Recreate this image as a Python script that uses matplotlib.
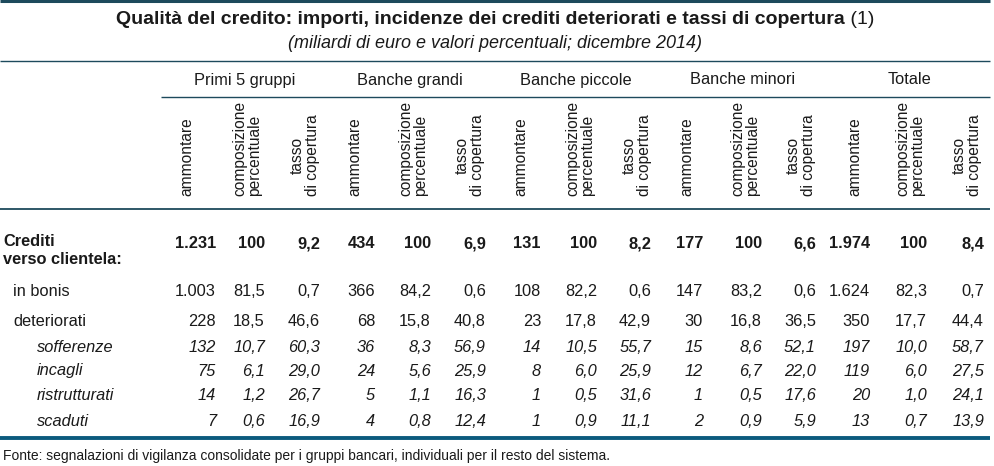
import matplotlib
matplotlib.use("Agg")
import matplotlib.pyplot as plt

plt.rcParams['font.family'] = ['Liberation Sans', 'DejaVu Sans']

# dati (miliardi di euro e valori percentuali; dicembre 2014)
gruppi = ["Primi 5 gruppi", "Banche grandi", "Banche piccole", "Banche minori", "Totale"]
voci = ["Crediti\nverso clientela:", "in bonis", "deteriorati",
        "sofferenze", "incagli", "ristrutturati", "scaduti"]
colonne = ["ammontare", "composizione\npercentuale", "tasso\ndi copertura"]

ammontare = [
    [1231, 1003, 228, 132, 75, 14, 7],
    [434, 366, 68, 36, 24, 5, 4],
    [131, 108, 23, 14, 8, 1, 1],
    [177, 147, 30, 15, 12, 1, 2],
    [1974, 1624, 350, 197, 119, 20, 13],
]
composizione = [
    [100, 81.5, 18.5, 10.7, 6.1, 1.2, 0.6],
    [100, 84.2, 15.8, 8.3, 5.6, 1.1, 0.8],
    [100, 82.2, 17.8, 10.5, 6.0, 0.5, 0.9],
    [100, 83.2, 16.8, 8.6, 6.7, 0.5, 0.9],
    [100, 82.3, 17.7, 10.0, 6.0, 1.0, 0.7],
]
tasso = [
    [9.2, 0.7, 46.6, 60.3, 29.0, 26.7, 16.9],
    [6.9, 0.6, 40.8, 56.9, 25.9, 16.3, 12.4],
    [8.2, 0.6, 42.9, 55.7, 25.9, 31.6, 11.1],
    [6.6, 0.6, 36.5, 52.1, 22.0, 17.6, 5.9],
    [8.4, 0.7, 44.4, 58.7, 27.5, 24.1, 13.9],
]

titolo = "Qualità del credito: importi, incidenze dei crediti deteriorati e tassi di copertura"
sottotitolo = "(miliardi di euro e valori percentuali; dicembre 2014)"
fonte = ("Fonte: segnalazioni di vigilanza consolidate per i gruppi bancari, "
         "individuali per il resto del sistema.")

# layout (pixel)
W, H = 995, 466
col_right = [[216, 265, 320], [375, 431, 486], [541, 597, 651],
             [703, 762, 816], [870, 927, 984]]
lab_x = [[187, 247, 305], [355, 413, 470], [521, 580, 637],
         [687, 745, 801], [855, 910, 967]]
grp_x = [245, 410, 576, 743, 910]
row_y = [244, 291, 322, 347, 371, 396, 421]
row_lab_x = [3, 13, 13, 37, 37, 37, 37]
row_style = ["bold", "normal", "normal", "italic", "italic", "italic", "italic"]

LINE = "#1d4a5c"
BLUE = "#0c5b7d"
TXT = "#1a1a1a"
FS = 11.8


def fmt_int(v):
    return f"{v:,}".replace(",", ".")


def fmt_dec(v):
    return f"{v:.1f}".replace(".", ",")


fig = plt.figure(figsize=(W / 100, H / 100), dpi=100)
ax = fig.add_axes([0, 0, 1, 1])
ax.set_xlim(0, W)
ax.set_ylim(H, 0)
ax.axis("off")

# titolo: parte in grassetto + " (1)" normale, centrati insieme
r = fig.canvas.get_renderer()
tb = ax.text(0, 20, titolo, ha="left", va="center", fontsize=14, fontweight="bold", color=TXT)
tr = ax.text(0, 20, " (1)", ha="left", va="center", fontsize=14, color=TXT)
wb = tb.get_window_extent(r).width
wr = tr.get_window_extent(r).width
x0 = 495 - (wb + wr) / 2
tb.set_x(x0)
tr.set_x(x0 + wb)
ax.text(495, 44, sottotitolo, ha="center", va="center", fontsize=13,
        style="italic", color=TXT)

# linee
ax.plot([0, 990], [1, 1], color=LINE, lw=2.2, solid_capstyle="butt")
ax.plot([0, 990], [61, 61], color=LINE, lw=1.0, solid_capstyle="butt")
ax.plot([161, 990], [97, 97], color=LINE, lw=1.0, solid_capstyle="butt")
ax.plot([0, 990], [209, 209], color=LINE, lw=1.3, solid_capstyle="butt")
ax.plot([0, 990], [438, 438], color=BLUE, lw=2.8, solid_capstyle="butt")

# intestazioni
for g, name in enumerate(gruppi):
    ax.text(grp_x[g], 80, name, ha="center", va="center", fontsize=FS, color=TXT)
    for c, lab in enumerate(colonne):
        ax.text(lab_x[g][c], 196, lab, rotation=90, ha="center", va="bottom",
                multialignment="left" if c < 2 else "center",
                fontsize=11.2, color=TXT, linespacing=1.0)

# righe
for i, voce in enumerate(voci):
    kw = dict(fontsize=FS, color=TXT)
    if row_style[i] == "bold":
        kw["fontweight"] = "bold"
    elif row_style[i] == "italic":
        kw["style"] = "italic"
    if i == 0:
        ax.text(row_lab_x[i], 250.5, voce, ha="left", va="center", linespacing=1.2, **kw)
    else:
        ax.text(row_lab_x[i], row_y[i], voce, ha="left", va="center", **kw)
    for g in range(len(gruppi)):
        vals = [fmt_int(ammontare[g][i]),
                str(composizione[g][i]) if i == 0 else fmt_dec(composizione[g][i]),
                fmt_dec(tasso[g][i])]
        for c, s in enumerate(vals):
            ax.text(col_right[g][c], row_y[i], s, ha="right", va="center", **kw)

ax.text(3, 456, fonte, ha="left", va="center", fontsize=10, color=TXT)

fig.savefig("out.png", dpi=100)
